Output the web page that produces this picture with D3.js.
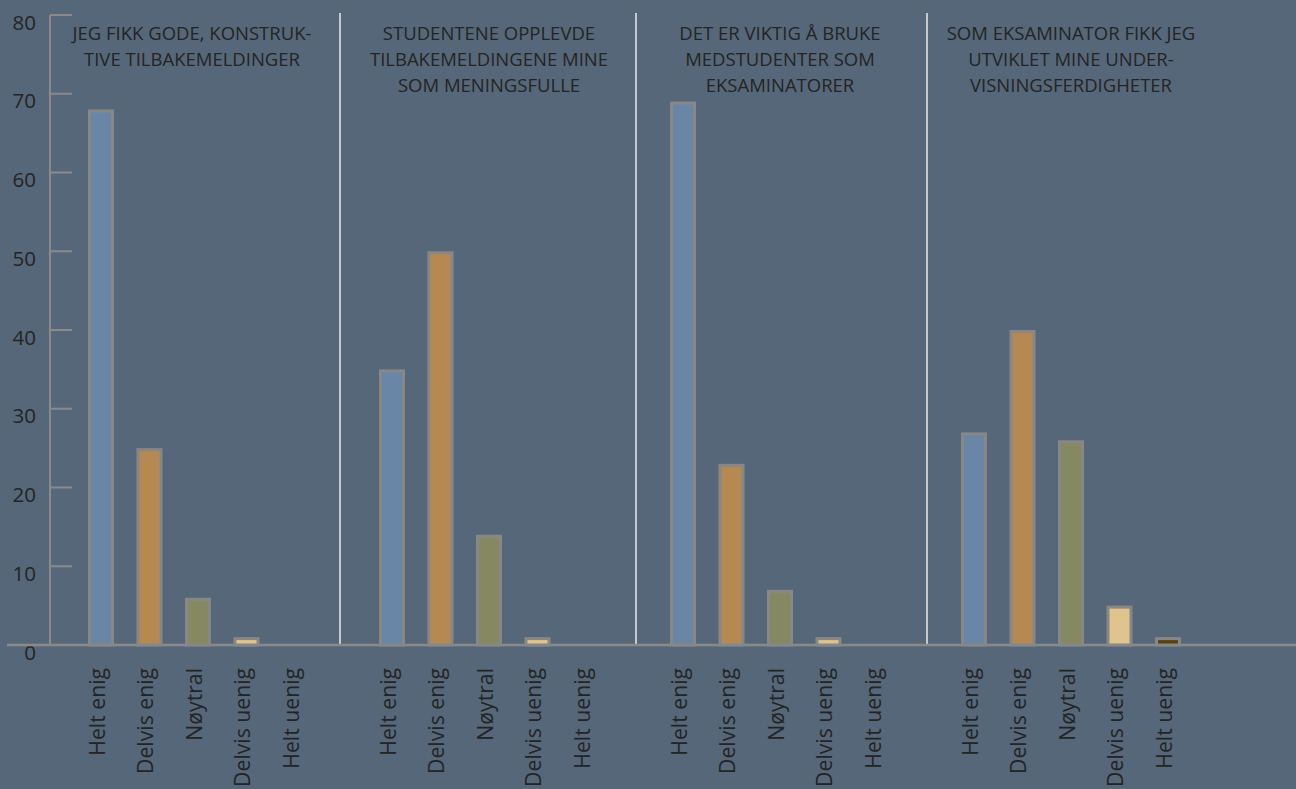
<!DOCTYPE html>
<html>
<head>
<meta charset="utf-8">
<script src="https://cdn.jsdelivr.net/npm/d3@7"></script>
<style>
  html, body { margin: 0; padding: 0; background: #566779; }
  svg { display: block; }
  text { font-family: "Open Sans", "Noto Sans", sans-serif; fill: #242424; }
</style>
</head>
<body>
<svg id="chart" width="1296" height="789"></svg>
<script>
// Survey statements (panel titles, one array of lines per panel)
const panelTitles = [
  ["JEG FIKK GODE, KONSTRUK-", "TIVE TILBAKEMELDINGER"],
  ["STUDENTENE OPPLEVDE", "TILBAKEMELDINGENE MINE", "SOM MENINGSFULLE"],
  ["DET ER VIKTIG Å BRUKE", "MEDSTUDENTER SOM", "EKSAMINATORER"],
  ["SOM EKSAMINATOR FIKK JEG", "UTVIKLET MINE UNDER-", "VISNINGSFERDIGHETER"]
];

// Answer categories
const categories = ["Helt enig", "Delvis enig", "Nøytral", "Delvis uenig", "Helt uenig"];

// Responses per statement (same order as categories)
const panel1Values = [68, 25, 6, 1, 0];
const panel2Values = [35, 50, 14, 1, 0];
const panel3Values = [69, 23, 7, 1, 0];
const panel4Values = [27, 40, 26, 5, 1];
const panelValues = [panel1Values, panel2Values, panel3Values, panel4Values];

const yTicks = [0, 10, 20, 30, 40, 50, 60, 70, 80];

const colors = ["#6986a6", "#b68953", "#858961", "#e0c48d", "#5a420f"];

const svg = d3.select("#chart");
const W = 1296;

const y = d3.scaleLinear().domain([0, 80]).range([645, 15]);

// Panel offsets along x
const panelX = d3.scaleLinear().domain([0, 1]).range([76.75, 367.75]);
const panelW = 242.5;
const x = d3.scaleBand().domain(categories).range([0, panelW])
  .paddingInner(0.464).paddingOuter(0.232);

const color = d3.scaleOrdinal().domain(categories).range(colors);

// Y axis: vertical line with right-pointing ticks
const yAxis = svg.append("g").attr("transform", "translate(50,0)");
yAxis.append("line")
  .attr("x1", 0).attr("x2", 0).attr("y1", y(80)).attr("y2", y(0))
  .attr("stroke", "#8a8a8a").attr("stroke-width", 2);
yAxis.selectAll("line.tick").data(yTicks.filter(d => d > 0)).join("line")
  .attr("class", "tick")
  .attr("x1", 0).attr("x2", 22)
  .attr("y1", d => y(d)).attr("y2", d => y(d))
  .attr("stroke", "#8a8a8a").attr("stroke-width", 2);
yAxis.selectAll("text").data(yTicks).join("text")
  .attr("x", -14).attr("y", d => y(d) + 14.5)
  .attr("text-anchor", "end")
  .attr("font-size", 20.5)
  .text(d => d);

// Panel separators
const sepX = [340, 636, 927];
svg.selectAll("line.sep").data(sepX).join("line")
  .attr("class", "sep")
  .attr("x1", d => d).attr("x2", d => d)
  .attr("y1", 13).attr("y2", y(0))
  .attr("stroke", "#c9c9c9").attr("stroke-width", 2);

// Baseline
svg.append("line")
  .attr("x1", 7).attr("x2", W).attr("y1", y(0)).attr("y2", y(0))
  .attr("stroke", "#8a8a8a").attr("stroke-width", 2.5);

panelValues.forEach((vals, i) => {
  const g = svg.append("g").attr("transform", `translate(${panelX(i)},0)`);
  const data = categories.map((c, j) => ({ cat: c, value: vals[j] }));

  g.selectAll("rect").data(data.filter(d => d.value > 0)).join("rect")
    .attr("x", d => x(d.cat) + 1.5)
    .attr("width", x.bandwidth() - 3)
    .attr("y", d => y(d.value) + 1.5)
    .attr("height", d => y(0) - y(d.value) - 1.5)
    .attr("fill", d => color(d.cat))
    .attr("stroke", "#878787").attr("stroke-width", 3);

  // Rotated category labels
  g.selectAll("text.cat").data(categories).join("text")
    .attr("class", "cat")
    .attr("transform", d => `translate(${x(d) + x.bandwidth() / 2 + 3.5},668) rotate(-90)`)
    .attr("text-anchor", "end")
    .attr("font-size", 21.2)
    .text(d => d);

  // Panel title
  const cx = panelX(i) + panelW / 2 - (i === 0 ? 6 : 0);
  svg.append("text")
    .attr("x", cx).attr("y", 39.5)
    .attr("text-anchor", "middle")
    .attr("font-size", 18.5)
    .selectAll("tspan").data(panelTitles[i]).join("tspan")
    .attr("x", cx)
    .attr("dy", (d, k) => k === 0 ? 0 : 26.3)
    .text(d => d);
});
</script>
</body>
</html>
